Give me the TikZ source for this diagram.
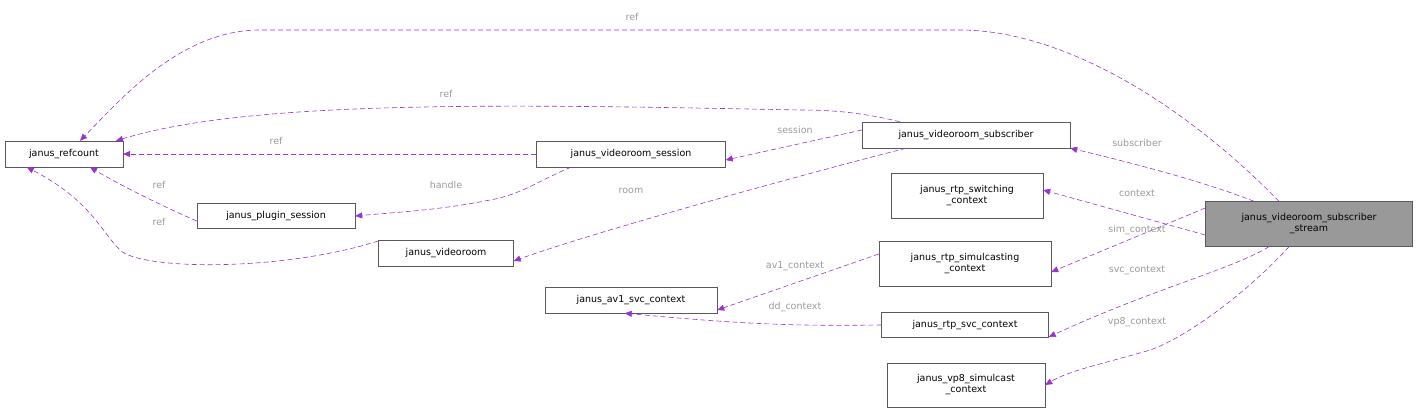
\documentclass[tikz,border=0pt]{standalone}
\usepackage{fontspec}
\setmainfont{DejaVu Sans}
\usetikzlibrary{arrows.meta}
\definecolor{edge}{HTML}{9A32CD}
\definecolor{lbl}{HTML}{9A9A9A}
\begin{document}
\begin{tikzpicture}[x=1pt,y=-1pt,
 box/.style={draw=black!65,fill=white,inner sep=0pt,font=\fontsize{9.5}{11}\selectfont,align=center},
 e/.style={draw=edge,dashed,dash pattern=on 5pt off 3pt,-{Triangle[length=7pt,width=6pt]},line width=0.6pt},
 l/.style={text=lbl,font=\fontsize{9.5}{11}\selectfont}]
\useasboundingbox (0,0) rectangle (1419,413);
\node[box,minimum width=118,minimum height=26] (rc) at (64,154) {janus\_refcount};
\node[box,minimum width=189,minimum height=26] (ses) at (631,154) {janus\_videoroom\_session};
\node[box,minimum width=208,minimum height=26] (sub) at (966,135) {janus\_videoroom\_subscriber};
\node[box,minimum width=158,minimum height=25] (ps) at (276,216) {janus\_plugin\_session};
\node[box,minimum width=135,minimum height=26] (vr) at (446,253) {janus\_videoroom};
\node[box,minimum width=152,minimum height=45] (sw) at (967,196) {janus\_rtp\_switching\\\_context};
\node[box,minimum width=207,minimum height=45,fill=black!40] (st) at (1309,224) {janus\_videoroom\_subscriber\\\_stream};
\node[box,minimum width=172,minimum height=45] (sim) at (965,264) {janus\_rtp\_simulcasting\\\_context};
\node[box,minimum width=172,minimum height=26] (av1) at (631,300) {janus\_av1\_svc\_context};
\node[box,minimum width=167,minimum height=25] (svc) at (965,325) {janus\_rtp\_svc\_context};
\node[box,minimum width=158,minimum height=44] (vp8) at (966,385) {janus\_vp8\_simulcast\\\_context};

\draw[e] ([xshift=-30]st.north) .. controls (1180,100) and (1060,30) .. (960,30) -- (260,30) .. controls (180,30) and (120,100) .. ([xshift=16]rc.north);
\node[l] at (632,17) {ref};
\draw[e] ([xshift=-66]sub.north) .. controls (860,112) and (830,110) .. (800,110) .. controls (500,104) and (250,100) .. ([xshift=52]rc.north);
\node[l] at (446,94) {ref};
\draw[e] (ses.west) -- (rc.east);
\node[l] at (276,141) {ref};
\draw[e] ([yshift=-5]ps.west) .. controls (160,205) and (120,185) .. ([xshift=26]rc.south);
\node[l] at (159,185) {ref};
\draw[e] ([yshift=12]vr.west) .. controls (280,272) and (140,270) .. (120,250) .. controls (100,230) and (90,200) .. ([xshift=22,yshift=0]rc.south west);
\node[l] at (159,222) {ref};
\draw[e] ([yshift=5]sub.west) -- ([yshift=-6]ses.east);
\node[l] at (795,130) {session};
\draw[e] ([xshift=-60]ses.south) .. controls (540,180) and (520,195) .. (490,200) .. controls (440,210) and (400,212) .. (ps.east);
\node[l] at (446,185) {handle};
\draw[e] ([xshift=-60]sub.south) .. controls (820,170) and (600,230) .. ([yshift=-8]vr.east);
\node[l] at (631,191) {room};
\draw[e] ([xshift=-55]st.north) .. controls (1200,180) and (1120,160) .. ([xshift=0,yshift=0]sub.south east);
\node[l] at (1137,143) {subscriber};
\draw[e] ([yshift=-11]st.west) -- ([yshift=6]sw.east);
\node[l] at (1137,193) {context};
\draw[e] ([yshift=16]st.west) -- ([yshift=-8]sim.east);
\node[l] at (1137,230) {sim\_context};
\draw[e] ([yshift=10]sim.west) -- ([xshift=0,yshift=-10]av1.east);
\node[l] at (795,266) {av1\_context};
\draw[e] ([xshift=-40]st.south) .. controls (1230,270) and (1150,290) .. ([yshift=-12]svc.east);
\node[l] at (1137,270) {svc\_context};
\draw[e] ([yshift=0]svc.west) .. controls (800,326) and (750,325) .. ([xshift=80]av1.south west);
\node[l] at (795,307) {dd\_context};
\draw[e] ([xshift=-20]st.south) .. controls (1240,300) and (1180,340) .. (1150,350) .. controls (1110,362) and (1070,370) .. (vp8.east);
\node[l] at (1137,322) {vp8\_context};
\end{tikzpicture}
\end{document}
